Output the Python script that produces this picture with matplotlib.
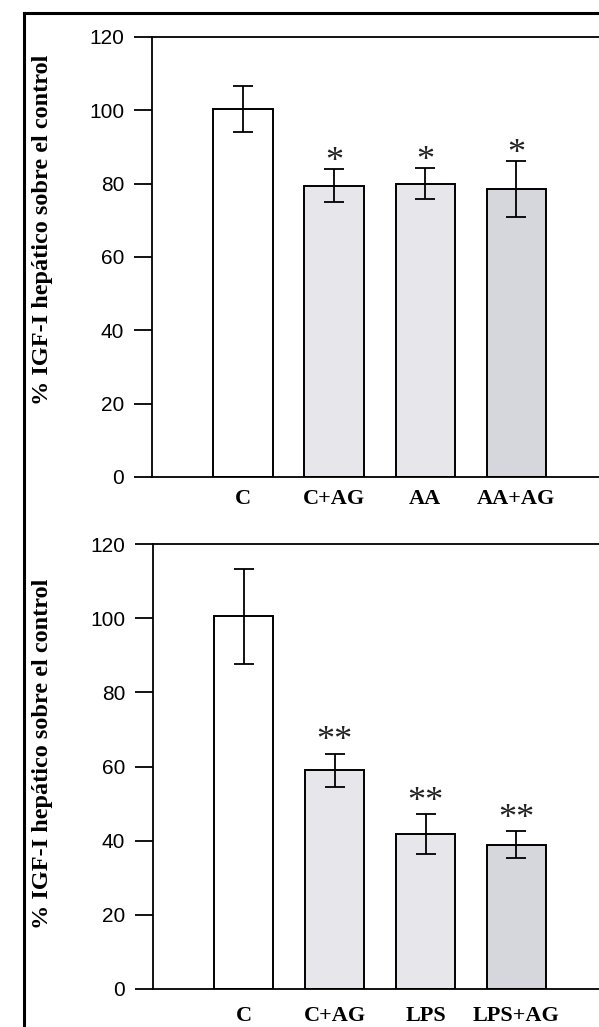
import matplotlib.pyplot as plt
from matplotlib.lines import Line2D

# datos
grupos_sup = ['C', 'C+AG', 'AA', 'AA+AG']
valores_sup = [100.3, 79.5, 80.0, 78.6]
errores_sup = [6.3, 4.6, 4.3, 7.7]
marcas_sup = ['', '*', '*', '*']

grupos_inf = ['C', 'C+AG', 'LPS', 'LPS+AG']
valores_inf = [100.5, 59.0, 41.7, 38.9]
errores_inf = [12.8, 4.5, 5.4, 3.6]
marcas_inf = ['', '**', '**', '**']

colores = ['white', '#e7e7eb', '#e7e7eb', '#d6d6dd']
ylabel = '% IGF-I hepático sobre el control'
yticks = [0, 20, 40, 60, 80, 100, 120]

W, H = 599, 1027
fig = plt.figure(figsize=(W / 100, H / 100), dpi=100)


def panel(rect, grupos, valores, errores, marcas, pad_x, sep):
    ax = fig.add_axes(rect)
    x = list(range(len(grupos)))
    ax.bar(x, valores, width=0.65, color=colores, edgecolor='black',
           linewidth=1.4, zorder=2)
    ax.errorbar(x, valores, yerr=errores, fmt='none', ecolor='black',
                elinewidth=1.3, capsize=7, capthick=1.3, zorder=3)
    for xi, v, e, m in zip(x, valores, errores, marcas):
        if m:
            ax.annotate(m, (xi, v + e), xytext=(0, sep), textcoords='offset points',
                        ha='center', va='baseline', fontsize=26,
                        family='Liberation Serif', color='#222222')
    ax.set_xlim(-1.0, 3.91)
    ax.set_ylim(0, 120)
    ax.set_yticks(yticks)
    ax.set_xticks(x)
    ax.set_xticklabels(grupos, family='Liberation Serif', fontweight='bold',
                       fontsize=16)
    ax.tick_params(axis='x', length=0, pad=pad_x)
    ax.tick_params(axis='y', direction='out', length=13, width=1.3, pad=7,
                   labelsize=15)
    for lab in ax.get_yticklabels():
        lab.set_family('Liberation Sans')
    ax.spines['right'].set_visible(False)
    for s in ['left', 'top', 'bottom']:
        ax.spines[s].set_linewidth(1.3)
    return ax


panel([152 / W, 550 / H, 447 / W, 440 / H], grupos_sup, valores_sup,
      errores_sup, marcas_sup, 9, -1.5)
panel([153 / W, 38 / H, 446 / W, 445 / H], grupos_inf, valores_inf,
      errores_inf, marcas_inf, 12, 2.5)

for yc in [230, 754]:
    fig.text(43 / W, 1 - yc / H, ylabel, rotation=90, ha='center', va='center',
             family='Liberation Serif', fontweight='bold', fontsize=17.5)

# marco exterior
fig.add_artist(Line2D([24 / W, 24 / W], [-0.01, 1 - 13 / H], color='black',
                      linewidth=2.2, transform=fig.transFigure))
fig.add_artist(Line2D([24 / W, 1.01], [1 - 13 / H, 1 - 13 / H], color='black',
                      linewidth=2.2, transform=fig.transFigure))

fig.savefig('out.png', dpi=100)
